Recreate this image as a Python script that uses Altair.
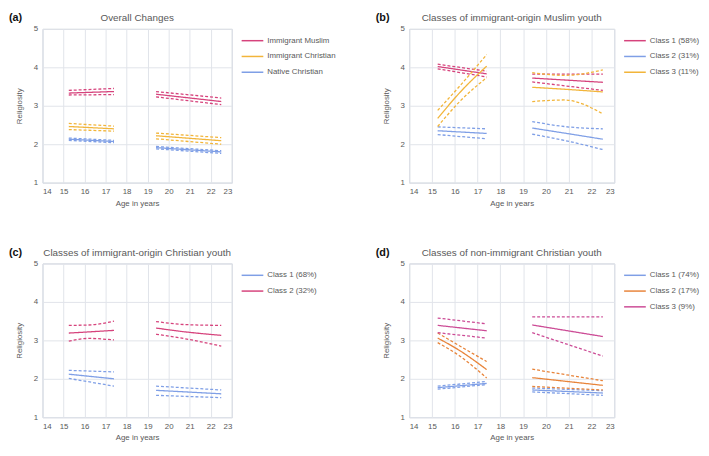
import altair as alt
import pandas as pd

FONT = "Liberation Sans"
GREY = "#595959"

# x positions of the two measurement periods (age in years)
AGES_1 = [15.25, 17.4]
AGES_1C = [15.25, 16.2, 17.4]
AGES_2 = [19.4, 22.5]
AGES_2C = [19.4, 20.8, 22.5]

# each segment: (ages, mean, upper CI, lower CI)
# ---- Panel (a)
A_GROUPS = ["Immigrant Muslim", "Immigrant Christian", "Native Christian"]
A_COLORS = ["#d6437c", "#f2b53a", "#7f9fe6"]
A_MUSLIM = [(AGES_1, [3.33, 3.37], [3.40, 3.45], [3.28, 3.29]),
            (AGES_2, [3.30, 3.11], [3.37, 3.20], [3.23, 3.03])]
A_IMM_CHR = [(AGES_1, [2.46, 2.40], [2.54, 2.47], [2.38, 2.34]),
             (AGES_2, [2.22, 2.09], [2.29, 2.17], [2.14, 2.00])]
A_NAT_CHR = [(AGES_1, [2.13, 2.07], [2.16, 2.10], [2.10, 2.04]),
             (AGES_2, [1.91, 1.80], [1.94, 1.83], [1.88, 1.76])]

# ---- Panel (b)
B_GROUPS = ["Class 1 (58%)", "Class 2 (31%)", "Class 3 (11%)"]
B_COLORS = ["#d6437c", "#7f9fe6", "#f2b53a"]
B_C1 = [(AGES_1, [4.02, 3.83], [4.08, 3.90], [3.96, 3.75]),
        (AGES_2, [3.72, 3.61], [3.82, 3.82], [3.62, 3.40])]
B_C2 = [(AGES_1, [2.35, 2.28], [2.45, 2.40], [2.25, 2.14]),
        (AGES_2C, [2.42, 2.29, 2.13], [2.59, 2.46, 2.40], [2.26, 2.10, 1.86])]
B_C3 = [(AGES_1C, [2.67, 3.33, 4.03], [2.88, 3.50, 4.33], [2.46, 3.10, 3.73]),
        (AGES_2C, [3.48, 3.43, 3.36], [3.86, 3.79, 3.93], [3.11, 3.15, 2.79])]

# ---- Panel (c)
C_GROUPS = ["Class 1 (68%)", "Class 2 (32%)"]
C_COLORS = ["#7f9fe6", "#d6437c"]
C_C1 = [(AGES_1, [2.12, 2.00], [2.22, 2.18], [2.01, 1.81]),
        (AGES_2, [1.70, 1.61], [1.81, 1.71], [1.57, 1.51])]
C_C2 = [(AGES_1C, [3.19, 3.22, 3.26], [3.39, 3.40, 3.50], [2.98, 3.05, 3.01]),
        (AGES_2C, [3.32, 3.22, 3.13], [3.49, 3.41, 3.39], [3.16, 3.04, 2.85])]

# ---- Panel (d)
D_GROUPS = ["Class 1 (74%)", "Class 2 (17%)", "Class 3 (9%)"]
D_COLORS = ["#7f9fe6", "#e8843a", "#cc4c96"]
D_C1 = [(AGES_1, [1.77, 1.88], [1.81, 1.93], [1.73, 1.85]),
        (AGES_2, [1.71, 1.63], [1.76, 1.69], [1.66, 1.57])]
D_C2 = [(AGES_1C, [3.06, 2.74, 2.24], [3.19, 2.86, 2.45], [2.94, 2.60, 2.02]),
        (AGES_2, [2.03, 1.83], [2.25, 1.95], [1.80, 1.71])]
D_C3 = [(AGES_1, [3.39, 3.25], [3.58, 3.43], [3.20, 3.06]),
        (AGES_2, [3.40, 3.10], [3.61, 3.61], [3.20, 2.59])]


def build(groups, series_list):
    rows = []
    for g, segs in zip(groups, series_list):
        for si, (ages, mean, up, lo) in enumerate(segs):
            for kind, vals in (("lower", lo), ("upper", up), ("mean", mean)):
                for a, v in zip(ages, vals):
                    rows.append({"group": g, "age": a, "value": v,
                                 "style": "solid" if kind == "mean" else "dashed",
                                 "line": f"{g}|{si}|{kind}"})
    return pd.DataFrame(rows)


def panel(groups, colors, series_list, title, letter, width, height):
    df = build(groups, series_list)
    lines = alt.Chart(df).mark_line(strokeWidth=1.3, interpolate="monotone").encode(
        x=alt.X("age:Q", scale=alt.Scale(domain=[14, 23], nice=False, zero=False),
                axis=alt.Axis(values=list(range(14, 24)), title="Age in years")),
        y=alt.Y("value:Q", scale=alt.Scale(domain=[1, 5], nice=False, zero=False),
                axis=alt.Axis(values=[1, 2, 3, 4, 5], title="Religiosity")),
        color=alt.Color("group:N", scale=alt.Scale(domain=groups, range=colors),
                        legend=alt.Legend(title=None)),
        strokeDash=alt.StrokeDash("style:N",
                                  scale=alt.Scale(domain=["solid", "dashed"], range=[[1, 0], [3, 2]]),
                                  legend=None),
        detail="line:N",
    )
    lab = alt.Chart(pd.DataFrame({"t": [letter]})).mark_text(
        align="left", baseline="middle", fontWeight="bold", fontSize=11, font=FONT, color="#111111"
    ).encode(text="t:N", x=alt.value(-34), y=alt.value(-11))
    return alt.layer(lines, lab).properties(
        width=width, height=height,
        title=alt.TitleParams(title, fontSize=10, font=FONT, color=GREY, fontWeight="normal", offset=-11),
    )


W_L, W_R, H = 192, 208, 156

pa = panel(A_GROUPS, A_COLORS, [A_MUSLIM, A_IMM_CHR, A_NAT_CHR], "Overall Changes", "(a)", W_L, H)
pb = panel(B_GROUPS, B_COLORS, [B_C1, B_C2, B_C3], "Classes of immigrant-origin Muslim youth", "(b)", W_R, H)
pc = panel(C_GROUPS, C_COLORS, [C_C1, C_C2], "Classes of immigrant-origin Christian youth", "(c)", W_L, H)
pd_ = panel(D_GROUPS, D_COLORS, [D_C1, D_C2, D_C3], "Classes of non-immigrant Christian youth", "(d)", W_R, H)

left = alt.vconcat(pa, pc, spacing=38).resolve_scale(color="independent")
right = alt.vconcat(pb, pd_, spacing=38).resolve_scale(color="independent")

chart = alt.hconcat(left, right, spacing=38).resolve_scale(color="independent").properties(
    padding={"left": 0, "top": 0, "right": 0, "bottom": 0}
).configure_view(
    stroke="#c5cbd6", strokeWidth=1
).configure_axis(
    labelFont=FONT, titleFont=FONT, labelFontSize=8, titleFontSize=8,
    labelColor=GREY, titleColor=GREY, titleFontWeight="normal",
    ticks=False, domain=False, gridColor="#e1e4ea", gridWidth=1,
).configure_axisX(
    labelPadding=5, titlePadding=4
).configure_axisY(
    labelPadding=5, titlePadding=10
).configure_legend(
    symbolType="stroke", symbolSize=484, symbolStrokeWidth=1.5,
    labelFont=FONT, labelFontSize=8, labelColor=GREY,
    offset=9, rowPadding=0, labelOffset=3, padding=0,
)

chart.save("out.html", embed_options={"renderer": "svg", "actions": False})
